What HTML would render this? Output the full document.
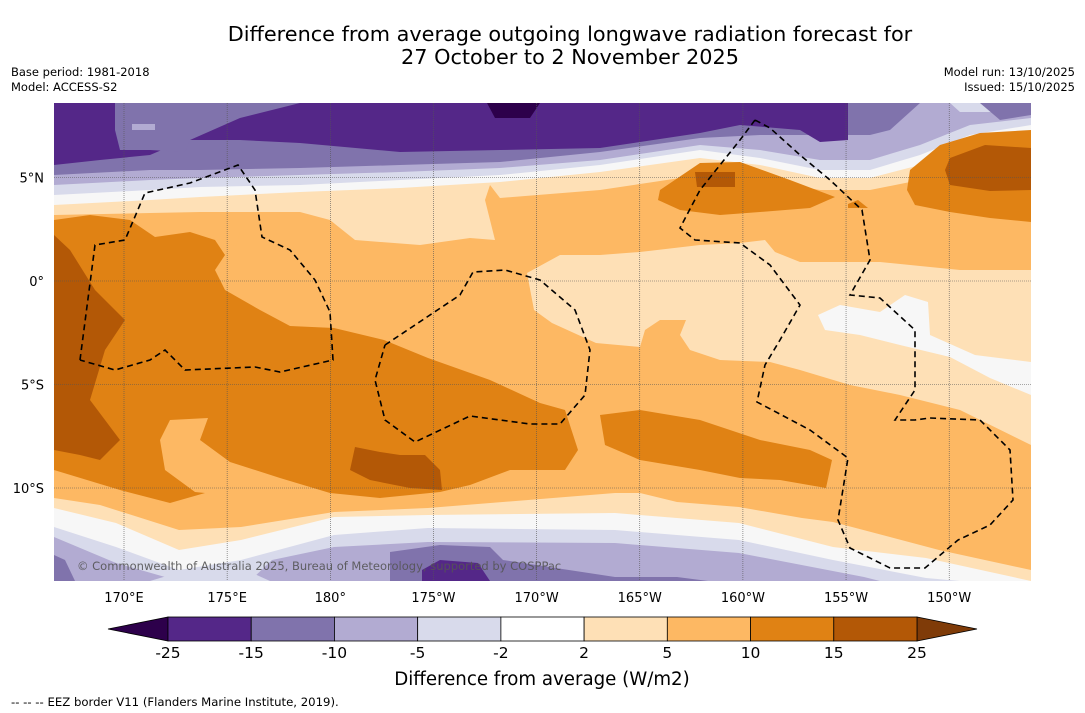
<!DOCTYPE html>
<html><head><meta charset="utf-8">
<style>
body{margin:0;background:#fff;width:1085px;height:713px;overflow:hidden;font-family:"Liberation Sans","DejaVu Sans",sans-serif;}
svg{position:absolute;left:0;top:0}
text{font-family:"DejaVu Sans","Liberation Sans",sans-serif;}
</style></head><body>
<svg id="chart" width="1085" height="713" viewBox="0 0 1085 713">
<text x="570" y="41" text-anchor="middle" font-size="20.8" fill="#000">Difference from average outgoing longwave radiation forecast for</text>
<text x="570" y="64" text-anchor="middle" font-size="20.8" fill="#000">27 October to 2 November 2025</text>
<text x="11" y="76" font-size="11.5">Base period: 1981-2018</text>
<text x="11" y="91" font-size="11.5">Model: ACCESS-S2</text>
<text x="1075" y="76" font-size="11.5" text-anchor="end">Model run: 13/10/2025</text>
<text x="1075" y="91" font-size="11.5" text-anchor="end">Issued: 15/10/2025</text>
<defs><clipPath id="mc"><rect x="54" y="103" width="977" height="478"/></clipPath></defs>
<g clip-path="url(#mc)">
<rect x="54" y="103" width="977" height="478" fill="#fdb863"/>
<polygon fill="#fee0b6" points="54,103 1031,103 1031,150 970,160 920,180 870,190 820,190 760,180 700,175 600,190 500,198 490,185 485,200 495,240 470,238 420,245 355,240 330,220 300,212 200,212 150,213 54,215"/>
<polygon fill="#f7f7f7" points="54,103 1031,103 1031,135 970,145 920,165 870,178 820,178 760,165 700,158 650,165 600,172 500,182 400,188 300,192 200,197 150,200 54,205"/>
<polygon fill="#d8daeb" points="54,103 1031,103 1031,125 970,135 920,155 870,170 820,170 760,158 700,150 600,165 500,175 400,180 300,185 200,187 150,190 54,195"/>
<polygon fill="#b2abd2" points="54,103 1031,103 1031,118 970,125 920,145 870,160 820,160 760,150 700,145 600,160 500,168 400,172 300,175 200,178 150,180 54,185"/>
<polygon fill="#d8daeb" points="950,103 1010,103 1000,112 960,112"/>
<polygon fill="#8073ac" points="54,103 1000,103 1031,103 1031,115 1000,120 980,103 920,103 890,130 870,135 820,135 760,135 700,138 600,152 500,162 400,165 300,168 200,170 150,170 54,175"/>
<polygon fill="#542788" points="54,103 848,103 848,140 820,142 800,130 740,125 700,133 600,148 500,150 400,152 300,143 240,140 185,140 150,155 100,160 54,165"/>
<polygon fill="#8073ac" points="115,103 300,103 240,118 190,140 185,152 150,150 120,150 115,130"/>
<polygon fill="#b2abd2" points="132,124 155,124 155,130 132,130"/>
<polygon fill="#2d004b" points="487,103 540,103 530,118 495,118"/>
<polygon fill="#e08214" points="54,220 90,215 130,220 155,237 190,232 215,240 225,255 215,270 225,290 260,310 290,326 334,328 384,340 428,358 490,380 540,403 565,410 578,450 565,470 510,470 470,485 440,492 380,498 330,493 280,478 230,462 200,440 208,418 170,420 160,440 165,470 195,492 205,493 170,503 120,490 54,470"/>
<polygon fill="#fdb863" points="230,229 240,233 236,246 228,244"/>
<polygon fill="#b35806" points="54,235 70,250 95,290 125,320 105,350 90,400 120,440 100,460 80,455 54,450"/>
<polygon fill="#b35806" points="355,447 380,452 400,455 425,455 440,470 442,490 410,488 370,480 350,470"/>
<polygon fill="#fee0b6" points="527,273 560,255 600,255 640,252 700,245 740,243 765,240 775,252 800,262 880,262 960,270 1031,270 1031,445 960,410 900,395 850,385 800,370 770,362 720,360 690,350 680,335 686,320 660,320 645,330 640,347 596,343 552,323 534,310"/>
<polygon fill="#fdb863" points="650,340 668,335 678,348 664,352"/>
<polygon fill="#f7f7f7" points="818,315 840,305 880,312 905,295 928,302 930,335 975,355 1031,362 1031,395 990,378 950,357 900,345 860,335 825,330"/>
<polygon fill="#e08214" points="660,190 700,163 740,162 790,180 835,197 810,208 760,212 720,215 680,210 658,200"/>
<polygon fill="#b35806" points="695,172 735,172 735,187 697,187"/>
<polygon fill="#e08214" points="848,204 858,200 868,208 848,208"/>
<polygon fill="#e08214" points="910,170 940,145 980,133 1031,130 1031,222 990,218 950,212 915,205 907,190"/>
<polygon fill="#b35806" points="950,158 985,145 1031,148 1031,190 990,191 950,185 945,170"/>
<polygon fill="#e08214" points="600,415 640,410 700,420 760,440 810,450 832,460 826,488 780,480 740,478 700,470 640,460 605,445"/>
<polygon fill="#fee0b6" points="54,498 100,505 179,530 241,527 334,512 428,508 615,493 640,493 677,502 739,507 802,518 833,522 939,550 1031,570 1031,581 54,581"/>
<polygon fill="#f7f7f7" points="54,508 116,523 179,550 241,540 334,517 428,515 615,513 739,523 833,547 926,558 1031,581 54,581"/>
<polygon fill="#d8daeb" points="54,527 116,547 179,570 241,560 334,535 428,528 615,530 739,540 833,560 926,578 960,581 54,581"/>
<polygon fill="#b2abd2" points="54,537 116,563 179,581 250,581 272,560 334,547 428,542 615,543 739,553 864,577 880,581 54,581"/>
<polygon fill="#d8daeb" points="150,581 180,572 250,572 270,581"/>
<polygon fill="#8073ac" points="390,581 390,552 440,545 490,547 503,560 615,577 677,577 708,581"/>
<polygon fill="#542788" points="422,581 422,570 440,560 478,563 490,581"/>
<polygon fill="#8073ac" points="54,555 65,560 75,581 54,581"/>
</g>
<g id="grid"></g>
<g fill="none" stroke="#000" stroke-width="1.6" stroke-dasharray="6,4">
<polyline points="80,360 95,245 125,240 145,193 190,183 238,165 255,190 262,237 290,250 315,280 330,312 333,360 280,372 255,367 185,370 165,350 150,360 115,370 80,360"/>
<polyline points="385,345 460,295 473,272 505,270 540,280 575,310 590,350 585,395 560,424 530,424 470,416 415,442 385,420 375,380 385,345"/>
<polyline points="755,120 740,140 700,190 680,228 695,240 740,243 770,265 800,305 780,340 765,365 757,402 810,430 848,458 838,520 850,548 890,568 925,568 958,540 990,525 1013,500 1010,450 980,420 930,418 915,420 895,420 915,390 915,330 880,298 850,295 870,260 862,210 830,180 800,155 770,128 755,120"/>
</g>
<text x="77" y="570" font-size="11.5" fill="#555" opacity="0.9">© Commonwealth of Australia 2025, Bureau of Meteorology, supported by COSPPac</text>
<g id="xticks"></g>
<g id="yticks"></g>
<g id="cbar"></g>
<text x="542" y="685" text-anchor="middle" font-size="18.2">Difference from average (W/m2)</text>
<text x="11" y="706" font-size="11.7">--  --  -- EEZ border V11 (Flanders Marine Institute, 2019).</text>
</svg>
<script>
const lonTicks=[170,175,180,-175,-170,-165,-160,-155,-150];
const lonLabels=["170°E","175°E","180°","175°W","170°W","165°W","160°W","155°W","150°W"];
const latTicks=[5,0,-5,-10];
const latLabels=["5°N","0°","5°S","10°S"];
const cbLevels=["-25","-15","-10","-5","-2","2","5","10","15","25"];
const cbColors=["#542788","#8073ac","#b2abd2","#d8daeb","#ffffff","#fee0b6","#fdb863","#e08214","#b35806"];
const cbExtLow="#2d004b", cbExtHigh="#7f3b08";
const NS="http://www.w3.org/2000/svg";
function lonX(l){const e=l<0?l+360:l;return 124+(e-170)*20.63;}
function latY(v){return 281-v*20.7;}
function mk(t,a,p){const e=document.createElementNS(NS,t);for(const k in a)e.setAttribute(k,a[k]);p.appendChild(e);return e;}
const g=document.getElementById('grid'),xt=document.getElementById('xticks'),yt=document.getElementById('yticks');
lonTicks.forEach((l,i)=>{const x=lonX(l);
 const ln=mk('line',{x1:x,x2:x,y1:103,y2:581,stroke:'#555','stroke-width':0.6,'stroke-dasharray':'1,1'},g);
 
 
 const t=mk('text',{x:x,y:602,'text-anchor':'middle','font-size':13},xt);t.textContent=lonLabels[i];
 
 });
latTicks.forEach((v,i)=>{const y=latY(v);
 const ln=mk('line',{x1:54,x2:1031,y1:y,y2:y,stroke:'#555','stroke-width':0.6,'stroke-dasharray':'1,1'},g);
 
 
 const t=mk('text',{x:44,y:y+5,'text-anchor':'end','font-size':13},yt);t.textContent=latLabels[i];
 
 });
const cb=document.getElementById('cbar');const x0=168,x1=917,y0=617,h=24;const w=(x1-x0)/cbColors.length;
const lo=mk('polygon',{points:`${x0},${y0} ${x0},${y0+h} 108,${y0+h/2}`,fill:cbExtLow,stroke:'#000','stroke-width':0.8},cb);


const hi=mk('polygon',{points:`${x1},${y0} ${x1},${y0+h} 977,${y0+h/2}`,fill:cbExtHigh,stroke:'#000','stroke-width':0.8},cb);


cbColors.forEach((c,i)=>{const r=mk('rect',{x:x0+i*w,y:y0,width:w,height:h,fill:c,stroke:'#000','stroke-width':0.8},cb);
 
 });
cbLevels.forEach((s,i)=>{const t=mk('text',{x:x0+i*w,y:658,'text-anchor':'middle','font-size':15.5},cb);t.textContent=s;
 
 });
</script>
</body></html>
